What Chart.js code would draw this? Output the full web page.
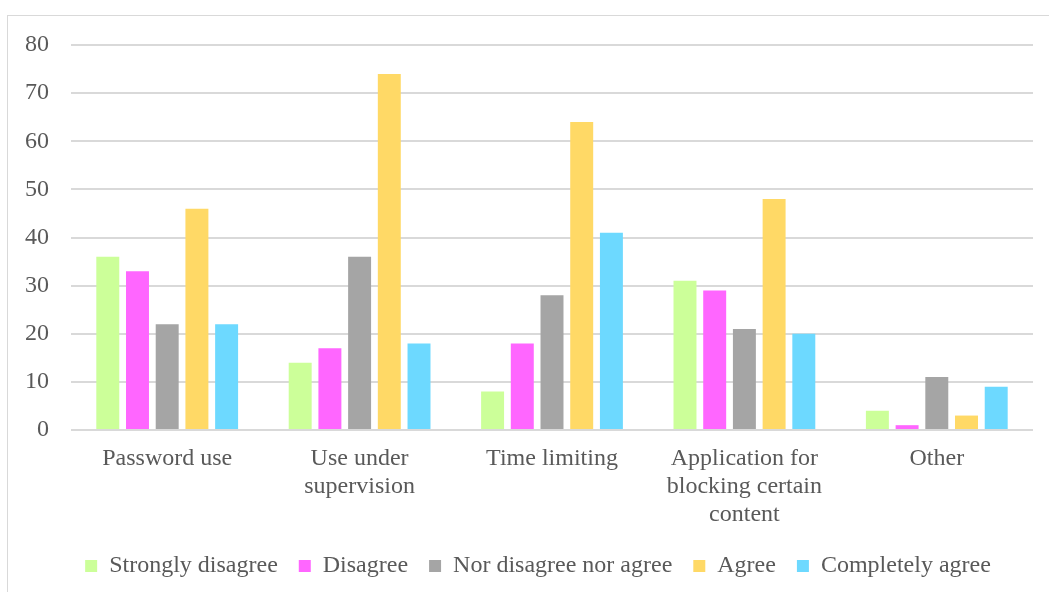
<!DOCTYPE html>
<html>
<head>
<meta charset="utf-8">
<script src="https://cdn.jsdelivr.net/npm/chart.js@4/dist/chart.umd.min.js"></script>
<style>
    html, body { margin: 0; padding: 0; background: #ffffff; overflow: hidden; }
    .frame {
        position: absolute; left: 7px; top: 15px;
        width: 1100px; height: 640px;
        border: 1px solid #d9d9d9;
    }
    .chart-container {
        position: absolute; left: 0; top: 0;
        width: 1049px; height: 592px;
    }
</style>
</head>
<body>
<div class="frame"></div>
<div class="chart-container">
    <canvas id="survey-chart"></canvas>
</div>
<script>
const categories = [
    'Password use',
    ['Use under', 'supervision'],
    'Time limiting',
    ['Application for', 'blocking certain', 'content'],
    'Other'
];
const seriesNames = ['Strongly disagree', 'Disagree', 'Nor disagree nor agree', 'Agree', 'Completely agree'];
const stronglyDisagree = [36, 14, 8, 31, 4];
const disagree = [33, 17, 18, 29, 1];
const neutral = [22, 36, 28, 21, 11];
const agree = [46, 74, 64, 48, 3];
const completelyAgree = [22, 18, 41, 20, 9];
const yTicks = [0, 10, 20, 30, 40, 50, 60, 70, 80];

const seriesColors = ['#CCFF99', '#FF66FF', '#A5A5A5', '#FFD966', '#6DD9FF'];
const seriesValues = [stronglyDisagree, disagree, neutral, agree, completelyAgree];

const textColor = '#595959';
const serif = "'Liberation Serif', 'Times New Roman', serif";

// nudge the legend row a little to the right after layout
const legendShift = {
    id: 'legendShift',
    afterLayout(chart) {
        chart.legend.left += 20;
        chart.legend.right += 20;
    }
};

const ctx = document.getElementById('survey-chart').getContext('2d');
new Chart(ctx, {
    type: 'bar',
    data: {
        labels: categories,
        datasets: seriesNames.map((name, i) => ({
            label: name,
            data: seriesValues[i],
            backgroundColor: seriesColors[i],
            borderWidth: 0,
            barPercentage: 0.773,
            categoryPercentage: 0.772
        }))
    },
    options: {
        responsive: true,
        maintainAspectRatio: false,
        animation: false,
        layout: {
            padding: { top: 45, left: 3, right: 16, bottom: 4 }
        },
        scales: {
            x: {
                grid: { display: false, drawTicks: false },
                border: { display: false },
                // labels sit close under the axis, trim the spare space below them
                afterFit: scale => { scale.height -= 11; },
                ticks: {
                    color: textColor,
                    padding: 15,
                    maxRotation: 0,
                    autoSkip: false,
                    font: { family: serif, size: 24, lineHeight: '28px' }
                }
            },
            y: {
                min: 0,
                max: 80,
                afterBuildTicks: scale => {
                    scale.ticks = yTicks.map(v => ({ value: v }));
                },
                grid: { color: '#d9d9d9', lineWidth: 2, drawTicks: false },
                border: { display: false },
                ticks: {
                    color: textColor,
                    padding: 22,
                    font: { family: serif, size: 24 }
                }
            }
        },
        plugins: {
            legend: {
                position: 'bottom',
                maxHeight: 66,
                labels: {
                    color: textColor,
                    boxWidth: 12,
                    boxHeight: 12,
                    padding: 21,
                    font: { family: serif, size: 24 }
                }
            },
            tooltip: { enabled: false }
        }
    },
    plugins: [legendShift]
});
</script>
</body>
</html>
